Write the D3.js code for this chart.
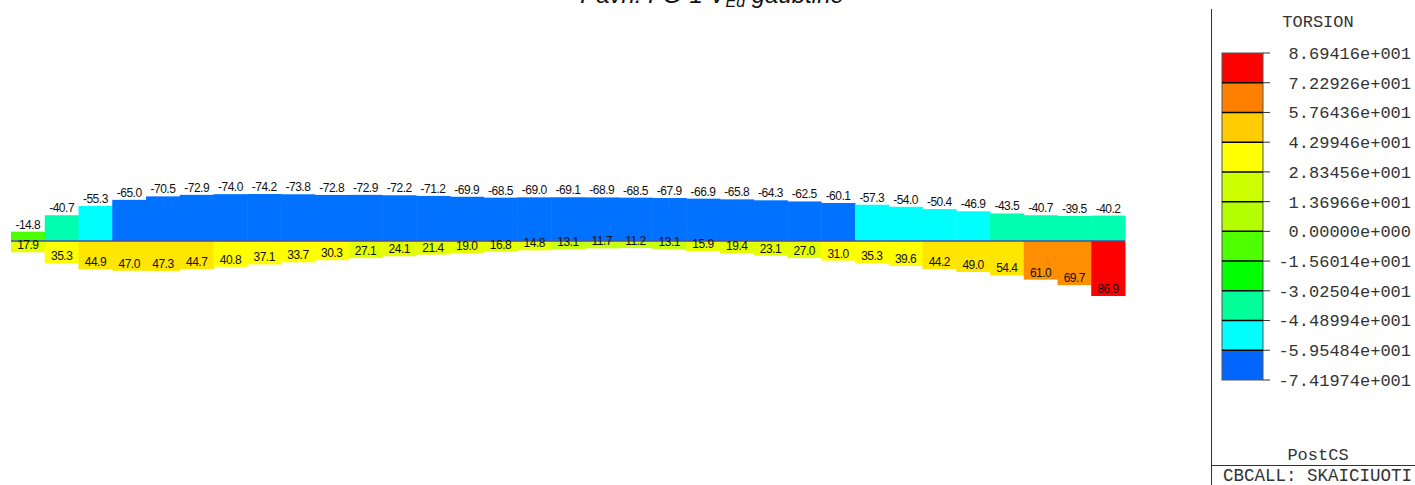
<!DOCTYPE html>
<html>
<head>
<meta charset="utf-8">
<script src="https://cdn.jsdelivr.net/npm/d3@7/dist/d3.min.js"></script>
<style>
  html, body { margin: 0; padding: 0; background: #fff; overflow: hidden; }
  svg { display: block; }
</style>
</head>
<body>
<svg id="chart" width="1415" height="485"></svg>
<script>
// Torsion along the beam: envelope of negative (upper) and positive (lower) values per segment
const segments = d3.range(33);
const negValues = [-14.8, -40.7, -55.3, -65.0, -70.5, -72.9, -74.0, -74.2, -73.8, -72.8, -72.9,
  -72.2, -71.2, -69.9, -68.5, -69.0, -69.1, -68.9, -68.5, -67.9, -66.9, -65.8, -64.3, -62.5,
  -60.1, -57.3, -54.0, -50.4, -46.9, -43.5, -40.7, -39.5, -40.2];
const posValues = [17.9, 35.3, 44.9, 47.0, 47.3, 44.7, 40.8, 37.1, 33.7, 30.3, 27.1,
  24.1, 21.4, 19.0, 16.8, 14.8, 13.1, 11.7, 11.2, 13.1, 15.9, 19.4, 23.1, 27.0,
  31.0, 35.3, 39.6, 44.2, 49.0, 54.4, 61.0, 69.7, 86.9];

// Contour legend levels (top to bottom)
const legendLevels = [86.9416, 72.2926, 57.6436, 42.9946, 28.3456, 13.6966, 0,
  -15.6014, -30.2504, -44.8994, -59.5484, -74.1974];
const legendLabels = ["8.69416e+001", "7.22926e+001", "5.76436e+001", "4.29946e+001",
  "2.83456e+001", "1.36966e+001", "0.00000e+000", "-1.56014e+001", "-3.02504e+001",
  "-4.48994e+001", "-5.95484e+001", "-7.41974e+001"];

const legendTitle = "TORSION";
const legendFooter = "PostCS";
const statusText = "CBCALL: SKAICIUOTI SKERSPJUVIUS";

const svg = d3.select("#chart");

// band colours, from the lowest level to the highest
const legendColors = ["#0066ff", "#00ffff", "#00ff99", "#00ff00", "#4dff00", "#b3ff00",
  "#ccff00", "#ffff00", "#ffcc00", "#ff8000", "#ff0000"];
const fillColors = ["#0072ff", "#00ffff", "#00fdb0", "#00ff00", "#4cff00", "#c6ff10",
  "#e4ff00", "#ffff00", "#ffe600", "#ff8f00", "#ff0000"];
const thresholds = legendLevels.slice(1, -1).reverse();
const fill = d3.scaleThreshold().domain(thresholds).range(fillColors);
const legendFill = d3.scaleThreshold().domain(thresholds).range(legendColors);

// scales
const x = d3.scaleBand().domain(segments).range([11, 1125]).padding(0);
const y = d3.scaleLinear().domain([0, 86.9]).range([241, 296]);

// title (sits mostly above the visible area)
const title = svg.append("text")
  .attr("x", 712).attr("y", 3)
  .attr("text-anchor", "middle")
  .attr("font-family", "Liberation Sans, Arial, sans-serif")
  .attr("font-size", 24).attr("font-style", "italic").attr("fill", "#111");
title.append("tspan").text("Pavn. FG-1 V");
title.append("tspan").attr("font-size", 16).attr("dy", 4).text("Ed");
title.append("tspan").attr("dy", -4).text(" gaubtinė");

const plot = svg.append("g");

// negative (upper) bars
plot.selectAll("rect.neg").data(segments).join("rect")
  .attr("class", "neg")
  .attr("x", i => x(i))
  .attr("width", x.bandwidth() + 0.5)
  .attr("y", i => y(negValues[i]))
  .attr("height", i => y(0) - y(negValues[i]))
  .attr("fill", i => fill(negValues[i]));

// positive (lower) bars
plot.selectAll("rect.pos").data(segments).join("rect")
  .attr("class", "pos")
  .attr("x", i => x(i))
  .attr("width", x.bandwidth() + 0.5)
  .attr("y", y(0))
  .attr("height", i => y(posValues[i]) - y(0))
  .attr("fill", i => fill(posValues[i]));

// beam axis
plot.append("line")
  .attr("x1", x.range()[0]).attr("x2", x.range()[1])
  .attr("y1", y(0)).attr("y2", y(0))
  .attr("stroke", "#4a4aa8").attr("stroke-width", 1.5);

const labelFont = "Liberation Sans, Arial, sans-serif";

plot.selectAll("text.neg").data(segments).join("text")
  .attr("class", "neg")
  .attr("x", i => x(i) + x.bandwidth() / 2)
  .attr("y", i => y(negValues[i]) - 3)
  .attr("text-anchor", "middle")
  .attr("font-family", labelFont).attr("font-size", 12).attr("letter-spacing", -0.5)
  .attr("fill", "#111")
  .text(i => negValues[i].toFixed(1));

plot.selectAll("text.pos").data(segments).join("text")
  .attr("class", "pos")
  .attr("x", i => x(i) + x.bandwidth() / 2)
  .attr("y", i => y(posValues[i]) - 3)
  .attr("text-anchor", "middle")
  .attr("font-family", labelFont).attr("font-size", 12).attr("letter-spacing", -0.5)
  .attr("fill", "#111")
  .text(i => posValues[i].toFixed(1));

// ---- legend panel ----
const mono = "Liberation Mono, Courier New, monospace";
const panel = svg.append("g");

panel.append("line")
  .attr("x1", 1211.5).attr("x2", 1211.5).attr("y1", 9).attr("y2", 485)
  .attr("stroke", "#333").attr("stroke-width", 1);
panel.append("line")
  .attr("x1", 1211).attr("x2", 1415).attr("y1", 465.5).attr("y2", 465.5)
  .attr("stroke", "#333").attr("stroke-width", 1);

panel.append("text")
  .attr("x", 1318).attr("y", 27).attr("text-anchor", "middle")
  .attr("font-family", mono).attr("font-size", 17).attr("fill", "#333")
  .text(legendTitle);

const ly = d3.scalePoint().domain(d3.range(legendLevels.length)).range([53, 380]);

// colour bands
const bands = d3.range(legendLevels.length - 1);
panel.selectAll("rect.band").data(bands).join("rect")
  .attr("class", "band")
  .attr("x", 1222).attr("width", 41)
  .attr("y", i => ly(i)).attr("height", i => ly(i + 1) - ly(i))
  .attr("fill", i => legendFill((legendLevels[i] + legendLevels[i + 1]) / 2));

panel.append("rect")
  .attr("x", 1222).attr("y", ly(0)).attr("width", 41).attr("height", ly(legendLevels.length - 1) - ly(0))
  .attr("fill", "none").attr("stroke", "#555").attr("stroke-width", 1);

panel.selectAll("line.sep").data(d3.range(1, legendLevels.length - 1)).join("line")
  .attr("class", "sep")
  .attr("x1", 1222).attr("x2", 1263)
  .attr("y1", i => ly(i)).attr("y2", i => ly(i))
  .attr("stroke", "#000").attr("stroke-width", 1.5);

panel.selectAll("line.tick").data(d3.range(legendLevels.length)).join("line")
  .attr("class", "tick")
  .attr("x1", 1263).attr("x2", 1270)
  .attr("y1", i => ly(i)).attr("y2", i => ly(i))
  .attr("stroke", "#333").attr("stroke-width", 1);

panel.selectAll("text.lvl").data(d3.range(legendLevels.length)).join("text")
  .attr("class", "lvl")
  .attr("x", 1411).attr("y", i => ly(i))
  .attr("dy", "0.35em")
  .attr("text-anchor", "end")
  .attr("font-family", mono).attr("font-size", 17).attr("fill", "#333")
  .text(i => legendLabels[i]);

panel.append("text")
  .attr("x", 1318).attr("y", 460).attr("text-anchor", "middle")
  .attr("font-family", mono).attr("font-size", 17).attr("fill", "#333")
  .text(legendFooter);

panel.append("text")
  .attr("x", 1223).attr("y", 481)
  .attr("font-family", mono).attr("font-size", 17.5).attr("fill", "#333")
  .text(statusText);
</script>
</body>
</html>
